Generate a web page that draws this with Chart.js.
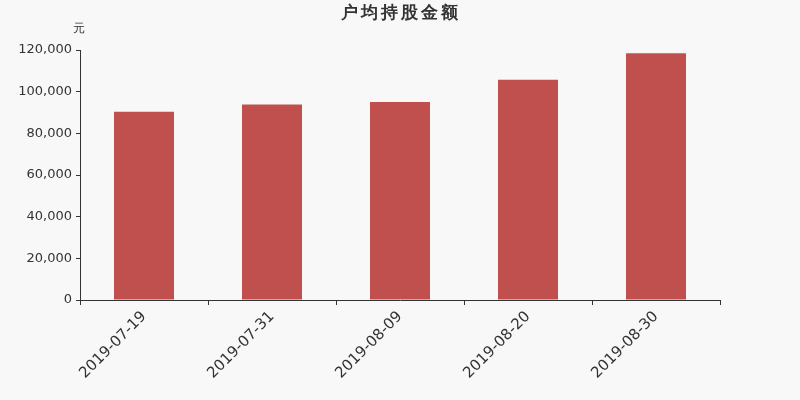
<!DOCTYPE html>
<html>
<head>
<meta charset="utf-8">
<script src="https://cdn.jsdelivr.net/npm/chart.js@4"></script>
<style>
  html, body { margin: 0; padding: 0; background: #f8f8f8; }
  #wrap { width: 800px; height: 400px; position: relative; }
</style>
</head>
<body>
<div id="wrap"><canvas id="chart"></canvas></div>
<script>
const dates = ['2019-07-19', '2019-07-31', '2019-08-09', '2019-08-20', '2019-08-30'];
const amounts = [90400, 93900, 95000, 105700, 118500];
const yTicks = [0, 20000, 40000, 60000, 80000, 100000, 120000];

const TEXT_COLOR = '#333';
const BAR_COLOR = '#c0504d';
const FONT = 'DejaVu Sans, sans-serif';

// title + unit label above the plot
const headerPlugin = {
  id: 'header',
  afterDraw: (chart) => {
    const { ctx } = chart;
    ctx.save();
    ctx.fillStyle = TEXT_COLOR;
    ctx.textAlign = 'center';
    ctx.textBaseline = 'middle';
    ctx.font = 'bold 17px ' + FONT;
    ctx.letterSpacing = '3px';
    ctx.fillText('户均持股金额', 401, 14);
    ctx.letterSpacing = '0px';
    ctx.font = '12px ' + FONT;
    ctx.fillText('元', 79, 29);
    ctx.restore();
  }
};

new Chart(document.getElementById('chart'), {
  type: 'bar',
  plugins: [headerPlugin],
  data: {
    labels: dates,
    datasets: [{
      data: amounts,
      backgroundColor: BAR_COLOR,
      barPercentage: 60 / 128,
      categoryPercentage: 1.0
    }]
  },
  options: {
    responsive: true,
    maintainAspectRatio: false,
    animation: false,
    layout: { padding: { top: 50, right: 80, left: 0, bottom: 0 } },
    plugins: {
      legend: { display: false },
      tooltip: { enabled: false }
    },
    scales: {
      x: {
        afterFit: (scale) => { scale.height = 100; },
        border: { display: true, color: TEXT_COLOR, width: 1 },
        grid: { display: true, offset: true, drawOnChartArea: false, drawTicks: true, tickLength: 5, color: TEXT_COLOR },
        ticks: {
          color: TEXT_COLOR,
          font: { family: FONT, size: 15 },
          minRotation: 45,
          maxRotation: 45,
          padding: 3
        }
      },
      y: {
        min: 0,
        max: 120000,
        afterFit: (scale) => { scale.width = 80; },
        afterBuildTicks: (scale) => { scale.ticks = yTicks.map(v => ({ value: v })); },
        border: { display: true, color: TEXT_COLOR, width: 1 },
        grid: { display: true, drawOnChartArea: false, drawTicks: true, tickLength: 4, color: TEXT_COLOR },
        ticks: {
          color: TEXT_COLOR,
          font: { family: FONT, size: 13 },
          padding: 4,
          callback: (v) => v.toLocaleString('en-US')
        }
      }
    }
  }
});
</script>
</body>
</html>
